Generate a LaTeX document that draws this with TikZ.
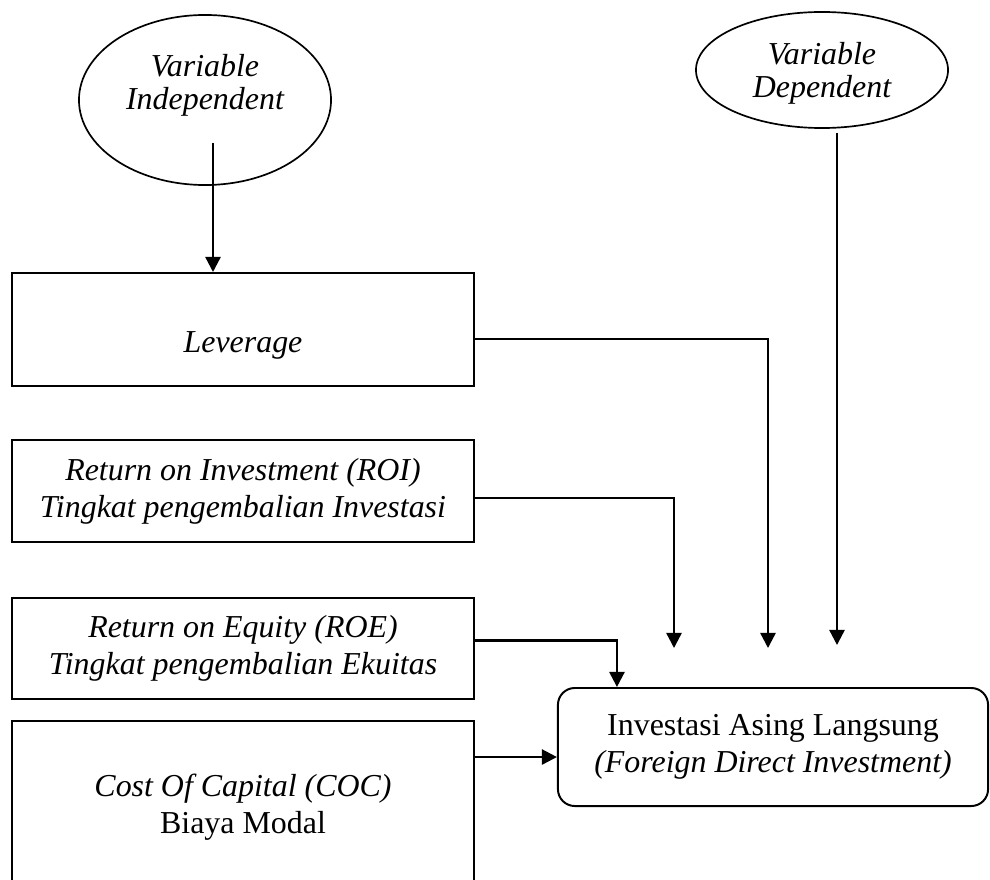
\documentclass[tikz,border=0pt]{standalone}
\usepackage{fontspec}
\setmainfont{Liberation Serif}
\usetikzlibrary{shapes.geometric,arrows.meta,positioning}

\begin{document}
\begin{tikzpicture}[
    x=0.025cm, y=-0.025cm,
    varbox/.style={rectangle, draw=black, line width=1.4pt, minimum width=11.55cm, text centered, align=center, font=\fontsize{22.7}{26.3}\selectfont\itshape},
    varell/.style={ellipse, draw=black, line width=1.2pt, inner sep=0pt, minimum width=6.3cm, align=center, font=\fontsize{22.7}{23.5}\selectfont\itshape},
    result/.style={rectangle, rounded corners=0.42cm, draw=black, line width=1.4pt, minimum width=10.75cm, minimum height=2.95cm, align=center, font=\fontsize{22.7}{26.3}\selectfont},
    arrow/.style={-{Triangle[length=0.38cm, width=0.38cm]}, line width=1.7pt}
]
\useasboundingbox (0,0) rectangle (990,879);

\node (indep) [varell, minimum height=4.25cm, text depth=0.88cm] at (205,100) {Variable\\Independent};
\node (dep) [varell, minimum height=2.9cm, text depth=-0.37cm] at (822,70) {Variable\\Dependent};

\node (lev) [varbox, minimum height=2.825cm, text height=1.3cm, text depth=0.17cm] at (243,329.5) {Leverage};
\node (roi) [varbox, minimum height=2.55cm, below=1.3cm of lev] {Return on Investment (ROI)\\Tingkat pengembalian Investasi};
\node (roe) [varbox, minimum height=2.525cm, below=1.35cm of roi] {Return on Equity (ROE)\\Tingkat pengembalian Ekuitas};
\node (coc) [varbox, minimum height=4.3cm, below=0.5cm of roe] {Cost Of Capital (COC)\\{\upshape Biaya Modal}};

\node (fdi) [result] at (773,747) {Investasi Asing Langsung\\\textit{(Foreign Direct Investment)}};

\coordinate (indout) at (213,143);
\coordinate (depout) at (837,133);
\coordinate (depin) at (837,645);
\coordinate (levin) at (768,648);
\coordinate (roiin) at (674,648);

\draw [arrow] (indout) -- (indout |- lev.north);
\draw [arrow] (depout) -- (depin);

\draw [arrow] ([yshift=-0.24cm]lev.east) -| (levin);
\draw [arrow] ([yshift=-0.175cm]roi.east) -| (roiin);
\draw [arrow] ([yshift=0.2cm]roe.east) -| ([xshift=-3.9cm]fdi.north);
\draw [arrow] ([yshift=1.25cm]coc.east) -- ([yshift=1.25cm]coc.east -| fdi.west);

\end{tikzpicture}
\end{document}
